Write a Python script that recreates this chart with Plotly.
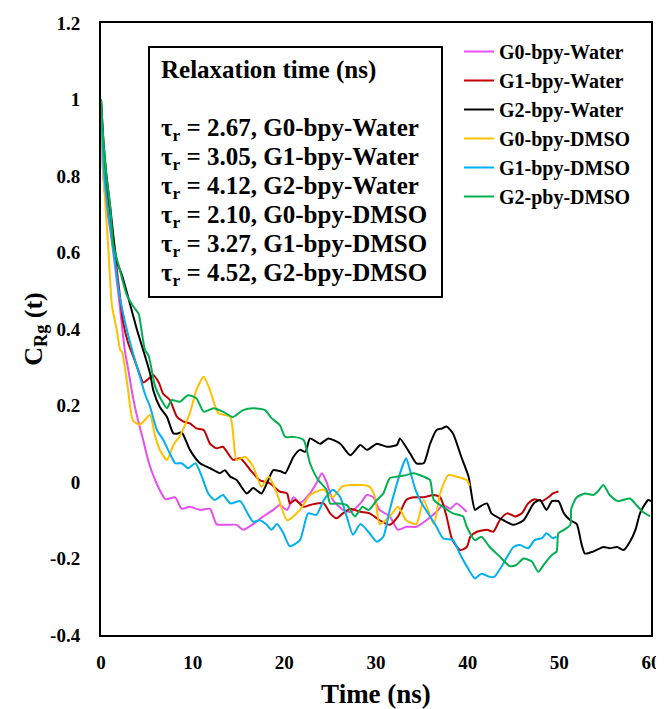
import plotly.graph_objects as go

FONT = "Liberation Serif, Times New Roman, serif"

# ---------------- data ----------------
t_g0w = [0, 0.25, 0.6, 1.0, 1.5, 2.0, 2.6, 3.0, 3.5, 4.0, 4.6, 5.0, 5.5, 6.0, 6.6, 7.0, 7.5, 8.1, 8.8, 9.7,
         10.8, 11.9, 12.6, 13.7, 14.8, 15.5, 16.6, 17.7, 18.8, 19.5, 20.3, 21.0, 21.7, 22.8, 23.5, 24.1, 24.6,
         25.3, 26.4, 27.2, 28.3, 29.0, 29.7, 30.4, 31.5, 32.4, 33.3, 34.4, 35.5, 36.6, 37.3, 38.1, 38.8, 39.9]
y_g0w = [1.0, 0.80, 0.72, 0.66, 0.57, 0.47, 0.345, 0.29, 0.22, 0.165, 0.11, 0.07, 0.03, 0.0, -0.03, -0.045,
         -0.043, -0.04, -0.07, -0.065, -0.073, -0.07, -0.11, -0.112, -0.112, -0.125, -0.11, -0.09, -0.073,
         -0.06, -0.073, -0.04, -0.055, -0.03, -0.003, 0.023, 0.0, -0.047, -0.073, -0.078, -0.056, -0.034,
         -0.04, -0.073, -0.09, -0.125, -0.117, -0.117, -0.1, -0.078, -0.06, -0.07, -0.056, -0.078]

t_g1w = [0, 0.3, 0.7, 1.0, 1.5, 2.0, 2.4, 3.0, 3.5, 4.25, 4.6, 5.2, 5.7, 6.3, 6.8, 7.5, 8.3, 9.0, 9.7, 10.4,
         11.2, 11.9, 12.6, 13.3, 14.4, 15.2, 16.3, 17.3, 18.4, 19.5, 20.3, 20.6, 21.2, 22.1, 22.8, 23.5, 24.3,
         25.0, 25.7, 26.4, 27.2, 28.3, 29.3, 30.4, 31.5, 32.4, 33.3, 34.1, 35.2, 36.3, 37.0, 37.7, 38.3, 39.2,
         39.9, 40.3, 41.0, 42.1, 42.8, 43.5, 44.3, 45.2, 45.9, 46.6, 47.3, 48.1, 48.8, 49.3, 49.9]
y_g1w = [1.0, 0.85, 0.75, 0.70, 0.60, 0.50, 0.42, 0.36, 0.33, 0.28, 0.26, 0.27, 0.28, 0.26, 0.23, 0.215,
         0.17, 0.158, 0.153, 0.14, 0.136, 0.10, 0.088, 0.092, 0.058, 0.062, 0.031, 0.005, -0.003, -0.025,
         -0.03, -0.056, -0.047, -0.065, -0.06, -0.056, -0.056, -0.082, -0.095, -0.082, -0.07, -0.078, -0.082,
         -0.1, -0.112, -0.09, -0.047, -0.04, -0.04, -0.034, -0.04, -0.09, -0.15, -0.178, -0.17, -0.143, -0.13,
         -0.125, -0.13, -0.1, -0.082, -0.09, -0.082, -0.056, -0.045, -0.05, -0.04, -0.03, -0.025]

t_g2w = [0, 0.3, 0.6, 1.0, 1.7, 2.3, 3.0, 3.9, 4.6, 5.35, 5.7, 6.4, 7.2, 7.9, 8.4, 8.8, 9.7, 10.8, 11.9,
         13.0, 13.5, 14.1, 14.8, 15.9, 16.6, 17.5, 18.1, 18.8, 19.7, 20.1, 21.0, 21.7, 22.3, 22.8, 23.9, 24.8,
         26.1, 27.2, 28.3, 29.0, 30.1, 31.2, 32.3, 32.6, 33.7, 34.4, 35.2, 35.9, 36.6, 37.2, 37.7, 38.4, 39.3,
         40.1, 40.8, 41.3, 42.1, 42.6, 43.9, 45.0, 46.1, 47.2, 47.9, 48.6, 49.2, 49.9, 50.5, 51.2, 51.9, 52.4,
         52.8, 53.7, 54.8, 55.5, 56.3, 57.0, 57.7, 58.3, 58.8, 59.4, 59.7, 60.0]
y_g2w = [1.0, 0.88, 0.80, 0.72, 0.58, 0.54, 0.48, 0.40, 0.345, 0.284, 0.24, 0.197, 0.17, 0.127, 0.127, 0.13,
         0.084, 0.049, 0.036, 0.023, 0.031, 0.014, 0.005, -0.03, -0.016, -0.03, -0.003, 0.031, 0.027, 0.023,
         0.066, 0.084, 0.079, 0.114, 0.10, 0.114, 0.10, 0.07, 0.097, 0.084, 0.10, 0.092, 0.097, 0.114, 0.075,
         0.049, 0.049, 0.10, 0.136, 0.14, 0.145, 0.127, 0.066, 0.014, -0.073, -0.065, -0.056, -0.082, -0.1,
         -0.112, -0.1, -0.056, -0.047, -0.073, -0.05, -0.05, -0.082, -0.1, -0.11, -0.16, -0.187, -0.182,
         -0.17, -0.173, -0.17, -0.178, -0.156, -0.125, -0.082, -0.056, -0.047, -0.05]

t_g0d = [0, 0.07, 0.44, 0.8, 1.2, 1.7, 2.1, 2.3, 2.9, 3.5, 4.25, 5.35, 5.9, 6.5, 7.2, 7.9, 8.6, 9.7, 10.4,
         11.2, 11.9, 12.8, 14.1, 14.8, 15.7, 16.6, 17.5, 18.3, 19.2, 20.3, 21.7, 22.8, 24.3, 25.3, 26.3, 27.4,
         28.3, 29.3, 29.9, 30.4, 31.5, 32.4, 33.3, 34.4, 35.2, 36.3, 37.0, 37.9, 38.8, 39.9, 40.2]
y_g0d = [1.0, 0.87, 0.74, 0.61, 0.46, 0.40, 0.345, 0.34, 0.25, 0.16, 0.15, 0.175, 0.12, 0.08, 0.058, 0.097,
         0.12, 0.18, 0.24, 0.275, 0.24, 0.18, 0.17, 0.058, 0.066, 0.04, -0.012, 0.014, -0.03, -0.1, -0.073,
         -0.034, -0.02, -0.04, -0.012, -0.008, -0.008, -0.012, -0.04, -0.11, -0.09, -0.065, -0.1, -0.11,
         -0.047, -0.11, -0.03, 0.018, 0.014, 0.005, -0.01]

t_g1d = [0, 0.3, 0.7, 1.0, 1.5, 2.0, 2.8, 3.5, 4.25, 4.8, 5.35, 6.1, 6.8, 7.5, 8.1, 8.8, 9.5, 10.3, 11.0,
         11.7, 12.4, 13.3, 14.1, 15.2, 15.9, 16.6, 17.3, 18.0, 18.6, 19.2, 19.9, 20.6, 21.7, 22.6, 23.5, 24.3,
         25.3, 26.1, 26.8, 27.5, 28.3, 29.3, 30.1, 30.8, 31.5, 32.3, 33.0, 33.3, 33.7, 34.3, 35.0, 35.9, 36.6,
         37.3, 38.4, 39.2, 39.9, 40.8, 41.5, 42.4, 42.9, 43.9, 45.0, 45.7, 46.6, 47.3, 48.1, 48.6, 49.3, 49.7]
y_g1d = [1.0, 0.82, 0.72, 0.67, 0.58, 0.49, 0.40, 0.336, 0.275, 0.23, 0.197, 0.136, 0.11, 0.075, 0.049,
         0.049, 0.036, 0.049, 0.014, -0.03, -0.047, -0.034, -0.056, -0.05, -0.078, -0.104, -0.1, -0.11,
         -0.125, -0.11, -0.134, -0.168, -0.152, -0.082, -0.086, -0.047, -0.02, -0.04, -0.09, -0.138, -0.11,
         -0.134, -0.156, -0.143, -0.073, -0.003, 0.049, 0.062, 0.031, -0.02, -0.056, -0.09, -0.117, -0.147,
         -0.152, -0.19, -0.22, -0.252, -0.24, -0.248, -0.248, -0.213, -0.17, -0.165, -0.173, -0.152, -0.147,
         -0.134, -0.147, -0.143]

t_g2d = [0, 0.3, 0.6, 1.0, 1.35, 2.0, 2.8, 3.5, 4.1, 4.4, 4.8, 5.2, 5.9, 6.6, 7.2, 7.7, 8.6, 9.5, 10.4,
         11.2, 12.3, 13.3, 14.4, 15.5, 16.6, 17.9, 18.6, 19.5, 20.1, 21.0, 22.1, 22.8, 23.7, 24.6, 25.0, 25.9,
         26.8, 27.7, 28.5, 29.2, 30.1, 30.8, 31.5, 32.3, 33.3, 34.1, 35.2, 35.9, 36.3, 37.3, 38.4, 39.5, 39.9,
         40.8, 41.5, 42.4, 43.5, 44.6, 45.3, 46.1, 47.0, 47.7, 48.4, 49.2, 49.7, 49.9, 50.5, 51.2, 51.3, 51.9,
         52.8, 53.7, 54.2, 54.8, 55.5, 56.4, 57.7, 58.4, 59.1, 59.9]
y_g2d = [1.0, 0.88, 0.80, 0.72, 0.62, 0.56, 0.49, 0.46, 0.44, 0.40, 0.345, 0.33, 0.25, 0.214, 0.193, 0.214,
         0.21, 0.227, 0.219, 0.184, 0.193, 0.184, 0.17, 0.188, 0.193, 0.188, 0.167, 0.149, 0.118, 0.118, 0.11,
         0.049, 0.005, -0.02, -0.056, -0.056, -0.06, -0.09, -0.065, -0.073, -0.047, -0.03, 0.01, 0.014, 0.018,
         0.023, 0.014, 0.005, -0.047, -0.065, -0.082, -0.09, -0.117, -0.152, -0.143, -0.17, -0.195, -0.22,
         -0.217, -0.2, -0.208, -0.235, -0.213, -0.19, -0.182, -0.134, -0.125, -0.112, -0.07, -0.04, -0.03,
         -0.034, -0.025, -0.008, -0.034, -0.05, -0.043, -0.06, -0.078, -0.09]

series_names = ["G0-bpy-Water", "G1-bpy-Water", "G2-bpy-Water", "G0-bpy-DMSO", "G1-bpy-DMSO", "G2-pby-DMSO"]
series_t = [t_g0w, t_g1w, t_g2w, t_g0d, t_g1d, t_g2d]
series_y = [y_g0w, y_g1w, y_g2w, y_g0d, y_g1d, y_g2d]
series_colors = ["#E44FEF", "#C00000", "#000000", "#FFC000", "#00B0F0", "#00B050"]

relax_times = ["2.67", "3.05", "4.12", "2.10", "3.27", "4.52"]
relax_labels = ["G0-bpy-Water", "G1-bpy-Water", "G2-bpy-Water", "G0-bpy-DMSO", "G1-bpy-DMSO", "G2-bpy-DMSO"]

x_ticks = [0, 10, 20, 30, 40, 50, 60]
y_ticks = [-0.4, -0.2, 0, 0.2, 0.4, 0.6, 0.8, 1.0, 1.2]
y_tick_text = ["-0.4", "-0.2", "0", "0.2", "0.4", "0.6", "0.8", "1", "1.2"]

# ---------------- figure ----------------
fig = go.Figure()
for name, tt, yy, col in zip(series_names, series_t, series_y, series_colors):
    fig.add_trace(go.Scatter(x=tt, y=yy, mode="lines", name=name,
                             line=dict(color=col, width=2, shape="spline", smoothing=0.6)))

# page body has an 8px margin; work in page pixels and convert
OFF = 8
W, H = 664 - OFF, 709 - OFF
L, T, R, B = 101 - OFF, 23 - OFF, 651 - OFF, 635 - OFF  # plot-area frame in figure pixels

def px(xp):  # page pixel -> paper x
    return (xp - OFF - L) / (R - L)
def py(yp):  # page pixel -> paper y
    return (B - (yp - OFF)) / (B - T)

fig.add_shape(type="rect", xref="paper", yref="paper",
              x0=px(149), x1=px(442), y0=py(297), y1=py(47),
              line=dict(color="black", width=2), fillcolor="white", layer="below")
fig.add_annotation(xref="paper", yref="paper", x=px(159), y=py(70), xanchor="left", yanchor="middle",
                   text="<b>Relaxation time (ns)</b>", showarrow=False,
                   font=dict(family=FONT, size=25, color="black"))
for i, (tv, lab) in enumerate(zip(relax_times, relax_labels)):
    fig.add_annotation(xref="paper", yref="paper", x=px(159), y=py(129 + 29 * i),
                       xanchor="left", yanchor="middle",
                       text=f"<b>τ<sub>r</sub> = {tv}, {lab}</b>", showarrow=False,
                       font=dict(family=FONT, size=25, color="black"))

axis_common = dict(showline=True, linecolor="black", linewidth=2, mirror=True,
                   showgrid=False, zeroline=False, ticks="", automargin=False,
                   tickfont=dict(family=FONT, size=19, color="black", weight="bold"))

fig.update_layout(
    width=W, height=H,
    margin=dict(l=L, r=W - R, t=T, b=H - B, autoexpand=False),
    paper_bgcolor="white", plot_bgcolor="white",
    xaxis=dict(range=[0, 60], tickvals=x_ticks, ticklabelstandoff=9,
               title=dict(text="Time (ns)", standoff=24,
                          font=dict(family=FONT, size=27, color="black", weight="bold")),
               **axis_common),
    yaxis=dict(range=[-0.4, 1.2], tickvals=y_ticks, ticktext=y_tick_text, ticklabelstandoff=15,
               title=dict(text="C<sub>Rg</sub> (t)", standoff=0,
                          font=dict(family=FONT, size=26, color="black", weight="bold")),
               **axis_common),
    legend=dict(x=px(459), y=py(32), xanchor="left", yanchor="top",
                bgcolor="rgba(0,0,0,0)", borderwidth=0, itemwidth=30,
                font=dict(family=FONT, size=20, color="black", weight="bold")),
    showlegend=True,
)

fig.write_html("out.html")
